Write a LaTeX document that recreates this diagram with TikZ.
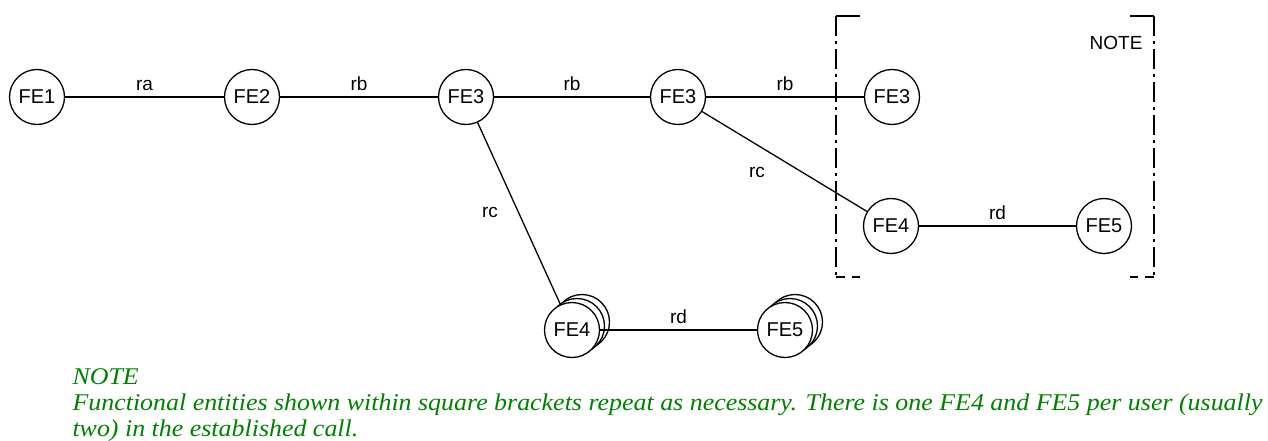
\documentclass[tikz,border=0pt]{standalone}
\usepackage{fontspec}
\setmainfont{Liberation Sans}
\newfontfamily\notefont[FakeStretch=1.08]{Liberation Serif}
\definecolor{notegreen}{RGB}{0,128,0}
\usetikzlibrary{positioning}

\tikzset{
  fe/.style={circle,draw,fill=white,line width=1.3pt,minimum size=55pt,inner sep=0pt,font=\fontsize{20}{22}\selectfont},
  feback/.style={circle,draw,fill=white,line width=1.3pt,minimum size=55pt,inner sep=0pt},
  link/.style={line width=1.3pt},
  lbl/.style={font=\fontsize{19}{21}\selectfont},
  brack/.style={line width=1.3pt,dash pattern=on 20pt off 5pt on 3pt off 5pt},
  brackfoot/.style={line width=1.3pt,dash pattern=on 9pt off 7pt on 8pt off 9pt}
}
\tikzset{note/.style={anchor=base west,text=notegreen,font=\notefont\itshape\fontsize{24}{26}\selectfont}}

\begin{document}
\begin{tikzpicture}[x=1pt,y=-1pt]
\useasboundingbox (0,0) rectangle (1268,441);
% top row
\node[fe] (fe1) at (37,97) {FE1};
\node[fe] (fe2) at (252,97) {FE2};
\node[fe] (fe3a) at (466,97) {FE3};
\node[fe] (fe3b) at (678,97) {FE3};
\node[fe] (fe3c) at (892,97) {FE3};
% repeated entities
\node[fe] (fe4r) at (891,226) {FE4};
\node[fe] (fe5r) at (1104,226) {FE5};
% stacked entities
\node[feback] at (582,322) {};
\node[feback] at (577,326) {};
\node[fe] (fe4b) at (572,330) {FE4};
\node[feback] at (795,322) {};
\node[feback] at (790,326) {};
\node[fe] (fe5b) at (785,330) {FE5};
% links
\draw[link] (fe1) -- node[lbl,above=2pt] {ra} (fe2);
\draw[link] (fe2) -- node[lbl,above=2pt] {rb} (fe3a);
\draw[link] (fe3a) -- node[lbl,above=2pt] {rb} (fe3b);
\draw[link] (fe3b) -- node[lbl,above=2pt] {rb} (fe3c);
\draw[link] (fe3a) -- (fe4b);
\node[lbl] (rc1) at (490,212) {rc};
\draw[link] (fe3b) -- (fe4r);
\node[lbl] (rc2) at (757,172) {rc};
\draw[link] (fe4r) -- node[lbl,above=2pt] {rd} (fe5r);
\draw[link] (fe4b) -- node[lbl,above=2pt] {rd} (fe5b);
% brackets
\coordinate (lt) at (836,16);
\coordinate (lb) at (836,277);
\coordinate (rt) at (1154,16);
\coordinate (rb) at (1154,277);
\draw[link] (lt) -- ++(24,0);
\draw[brack] (lt) -- (lb);
\draw[brackfoot] (lb) -- ++(24,0);
\draw[link] (rt) -- ++(-24,0);
\draw[brack] (rt) -- (rb);
\draw[brackfoot] (rb) -- ++(-24,0);
\node[lbl,anchor=east] (bnote) at (1146,43) {NOTE};
% note
\node[note] (n1) at (69,384) {NOTE};
\node[note] (n2) at (69,410) {Functional entities shown within square brackets repeat as necessary. There is one FE4 and FE5 per user (usually};
\node[note] (n3) at (69,436) {two) in the established call.};
\end{tikzpicture}
\end{document}
